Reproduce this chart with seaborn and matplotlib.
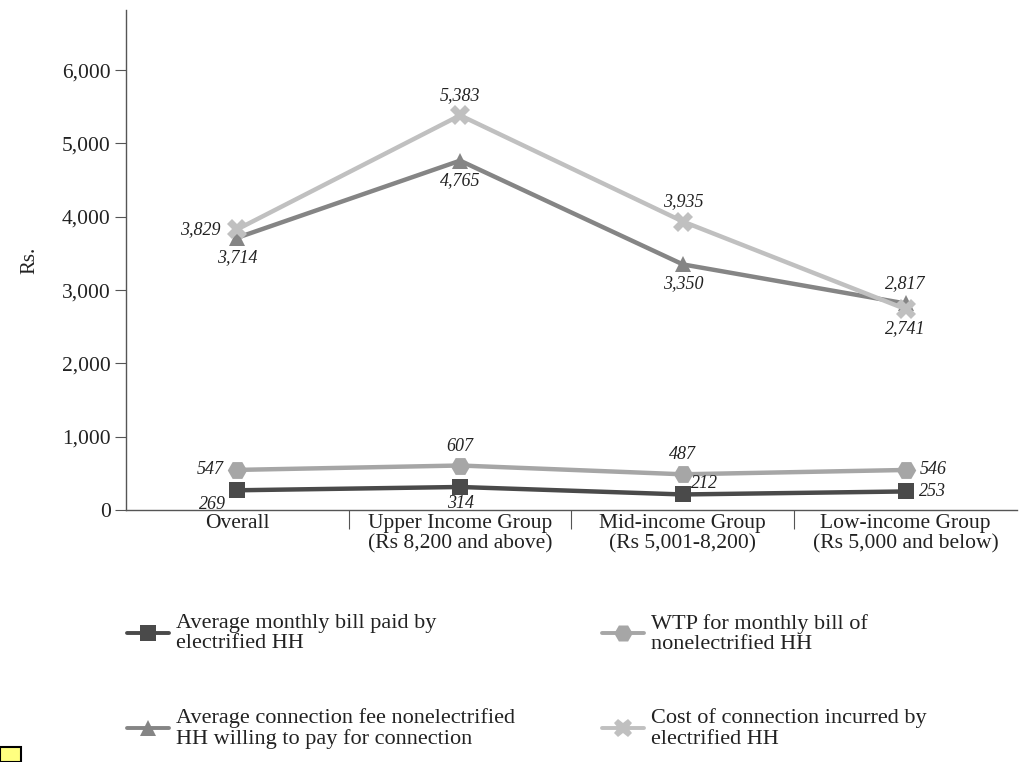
import matplotlib
matplotlib.use("Agg")
import matplotlib.pyplot as plt
import seaborn as sns
import pandas as pd
from matplotlib.lines import Line2D
from matplotlib.patches import Rectangle
from matplotlib.ticker import FuncFormatter, FixedLocator

categories = ["Overall", "Upper Income Group\n(Rs 8,200 and above)",
              "Mid-income Group\n(Rs 5,001-8,200)", "Low-income Group\n(Rs 5,000 and below)"]
series_names = ["Average monthly bill paid by\nelectrified HH",
                "WTP for monthly bill of\nnonelectrified HH",
                "Average connection fee nonelectrified\nHH willing to pay for connection",
                "Cost of connection incurred by\nelectrified HH"]
bill_paid = [269, 314, 212, 253]
wtp_bill = [547, 607, 487, 546]
conn_fee_wtp = [3714, 4765, 3350, 2817]
conn_cost = [3829, 5383, 3935, 2741]

values = [bill_paid, wtp_bill, conn_fee_wtp, conn_cost]
colors = ["#4a4a4a", "#a6a6a6", "#858585", "#c0c0c0"]
markers = ["s", "H", "^", "X"]
msizes = [12, 14, 12, 14]

# label offsets in points (dx, dy) and alignment per series/category
label_pos = [
    [(-8, -10, "right"), (0, -12, "center"), (6, 8, "left"), (10, 0, "left")],
    [(-10, 0, "right"), (0, 14, "center"), (0, 14, "center"), (10, 0, "left")],
    [(0, -14, "center"), (0, -14, "center"), (0, -14, "center"), (0, 14, "center")],
    [(-12, 0, "right"), (0, 14, "center"), (0, 14, "center"), (0, -14, "center")],
]

rows = []
for name, vals in zip(series_names, values):
    for cat, v in zip(categories, vals):
        rows.append({"category": cat, "series": name, "value": v})
df = pd.DataFrame(rows)

sns.set_style("white")
plt.rcParams["font.family"] = ["Liberation Serif", "DejaVu Serif"]

fig = plt.figure(figsize=(10.21, 7.62), dpi=100)
ax = fig.add_axes([0.1234, 0.3307, 0.8726, 0.6562])

sns.lineplot(data=df, x="category", y="value", hue="series", style="series",
             hue_order=series_names, style_order=series_names,
             palette=colors, markers=dict(zip(series_names, markers)),
             dashes=False, linewidth=3.2, markersize=12, markeredgewidth=0,
             sort=False, ax=ax, legend=False)

for line, ms in zip(ax.lines, msizes):
    line.set_markersize(ms)

for vals, pos in zip(values, label_pos):
    for i, (v, (dx, dy, ha)) in enumerate(zip(vals, pos)):
        ax.annotate(f"{v:,}", (i, v), xytext=(dx, dy), textcoords="offset points",
                    ha=ha, va="center", fontsize=13, style="italic", color="#222222")

ax.set_xlim(-0.5, 3.5)
ax.set_ylim(0, 6820)
ax.set_yticks(range(0, 7000, 1000))
ax.yaxis.set_major_formatter(FuncFormatter(lambda v, p: f"{int(v):,}"))
ax.set_xticks(range(4))
ax.set_xticklabels(categories, fontsize=15.5, linespacing=1.1)
ax.xaxis.set_minor_locator(FixedLocator([0.5, 1.5, 2.5]))
ax.tick_params(axis="x", which="major", length=0, pad=3, colors="#222222", bottom=True)
ax.tick_params(axis="x", which="minor", length=14, width=0.8, color="#555555",
               direction="out", bottom=True)
ax.tick_params(axis="y", length=8, width=0.8, color="#555555", direction="out",
               labelsize=15.5, labelcolor="#222222", pad=3, left=True)
for s in ["top", "right"]:
    ax.spines[s].set_visible(False)
for s in ["left", "bottom"]:
    ax.spines[s].set_color("#555555")
    ax.spines[s].set_linewidth(1.0)
ax.set_xlabel("")
ax.set_ylabel("Rs.", fontsize=15, labelpad=16, color="#222222")

handles = [Line2D([0], [0], color=c, lw=2.8, marker=m, markersize=ms * 0.95, markeredgewidth=0)
           for c, m, ms in zip(colors, markers, msizes)]
order = [0, 2, 1, 3]
leg = fig.legend([handles[i] for i in order], [series_names[i] for i in order],
                 ncol=2, loc="upper left", bbox_to_anchor=(0.105, 0.221),
                 frameon=False, fontsize=16, handlelength=1.9, handletextpad=0.3,
                 columnspacing=3.9, labelspacing=2.45)
for t in leg.get_texts():
    t.set_linespacing(1.1)
    t.set_color("#222222")

# small yellow note marker at the lower left corner
fig.patches.append(Rectangle((0.0, 0.0), 0.021, 0.02, transform=fig.transFigure,
                             facecolor="#ffff80", edgecolor="black", lw=1.5))

fig.savefig("out.png", dpi=100)
